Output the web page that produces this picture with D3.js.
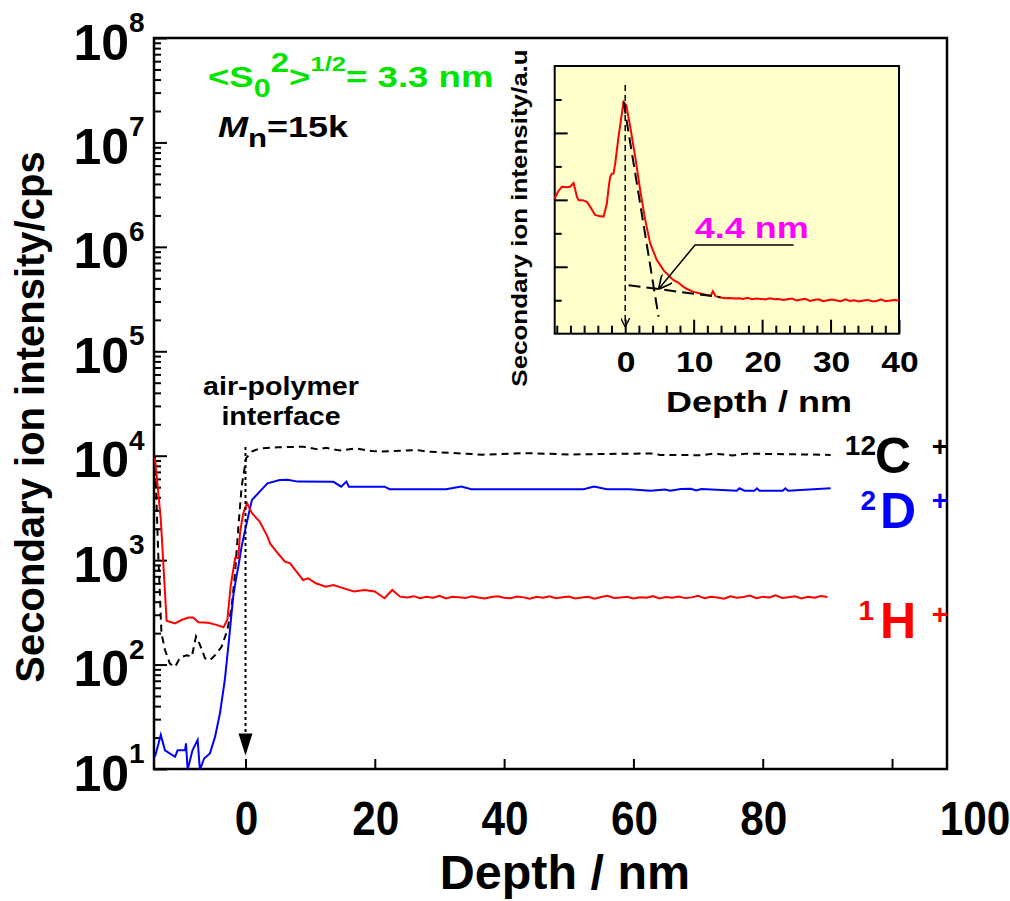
<!DOCTYPE html>
<html><head><meta charset="utf-8">
<script src="https://cdn.jsdelivr.net/npm/d3@7"></script>
<style>
body{margin:0;background:#fff}
svg{display:block}
text{font-family:Arial,"Liberation Sans",Helvetica,sans-serif;font-weight:bold}
</style>
</head><body><div id="chart"></div>
<script>
// ---------------- DATA ----------------
// 1H+ (red)
const hDepth = [-14.0,-13.1,-12.2,-10.9,-9.9,-8.8,-8.1,-7.3,-5.75,-4.5,-3.4,-2.8,-2.3,-1.6,-1.1,-0.85,-0.35,0.25,1.0,2.2,3.4,3.8,5.0,6.1,6.9,8.1,8.9,9.7,10.9,12.4,13.6,15.2,16.8,18.4,20.0,21.5,22.7,23.9,
  25,26,27,28,29,30,31,32,33,34,35,36,37,38,39,40,41,42,43,44,45,46,47,48,49,50,51,52,53,54,55,56,57,58,59,60,61,62,63,64,65,66,67,68,69,70,71,72,73,74,75,76,77,78,79,80,81,82,83,84,85,86,87,88,89,90];
const hCps = [9550,2455,263,248,267,282,282,254,251,240,228,269,562,1047,1047,1820,2818,3508,2812,2344,1679,1445,1164,968,933,748,646,670,600,557,578,537,501,518,501,432,518,447,
  440,452,432,447,437,455,430,446,441,433,450,438,429,444,452,436,431,448,440,427,445,437,451,432,442,449,430,438,446,428,443,455,434,439,447,430,441,436,452,429,444,437,448,433,440,456,431,445,438,427,450,436,443,458,432,447,439,461,434,442,450,430,446,437,453,444];
// 2D+ (blue)
const dDepth = [-14.0,-13.1,-12.45,-10.9,-10.5,-9.35,-9.2,-8.95,-8.2,-7.4,-7.05,-6.4,-5.5,-4.7,-3.95,-3.2,-2.5,-1.9,-1.55,-1.1,-0.6,0.2,1.0,2.2,3.4,5.3,6.5,8.1,13.6,14.8,15.6,16.0,21.5,22.3,31.0,33.4,34.9,52.3,53.9,55.9,59.4,62.6,64.9,65.7,67.3,68.9,69.7,70.5,76.0,76.4,77.2,78.7,79.1,79.5,83.1,83.5,83.9,90.5];
const dCps = [13.1,21.2,15.1,13.1,15.1,15.1,17.6,9.8,15.1,19.0,9.8,12.6,14.1,20.4,34.1,70.8,186,447,617,871,1349,2291,3776,4529,5445,5861,5888,5649,5623,5058,5649,5058,5058,4786,4786,5058,4786,4786,5058,4786,4786,4624,4753,4624,4808,4831,4656,4808,4624,4875,4624,4624,4875,4624,4624,4875,4624,4875];
// 12C+ (black dashed)
const cDepth = [-14.0,-13.5,-13.0,-12.45,-11.7,-10.9,-10.1,-9.1,-8.3,-7.65,-7.05,-6.26,-5.5,-4.7,-3.7,-2.8,-2.14,-1.62,-1.1,-0.6,0.1,0.95,2.2,5.0,8.9,11.2,12.5,14.6,17.0,19.5,20.7,26.5,28.0,36.7,43.0,50.2,56.1,63.0,64.1,70.5,72.5,75.3,77.5,90.5];
const cCps = [9772,1175,200,138,102,95,117,123,119,186,155,115,110,123,148,214,355,741,2089,5012,9462,10965,11749,12023,12218,11482,11885,11220,11749,11092,10965,11350,10965,10233,10593,10280,10399,10520,10186,10116,10471,10069,10471,10186];
// inset: 1H+ (a.u.)
const inDepth = [-10.3,-9.8,-9.25,-8.5,-8.0,-7.55,-7.3,-7.05,-6.8,-6.2,-5.6,-5.1,-4.4,-3.8,-3.16,-2.68,-2.4,-2.19,-1.95,-1.7,-1.46,-0.97,-0.49,-0.24,0.15,0.73,1.46,2.19,2.92,3.65,4.62,5.6,6.3,7.06,7.8,8.52,9.2,9.98,11.0,11.9,12.5,12.8,13.2,
  14.0,14.6,15.3,15.9,16.6,17.2,17.9,18.5,19.2,19.8,20.5,21.1,21.8,22.4,23.1,23.7,24.4,25.0,25.7,26.3,27.0,27.6,28.3,28.9,29.6,30.2,30.9,31.5,32.2,32.8,33.5,34.1,34.8,35.4,36.1,36.7,37.4,38.0,38.7,39.3,40.0];
const inInt = [4.04,4.25,4.39,4.38,4.40,4.50,4.30,4.09,3.99,3.99,3.94,3.79,3.55,3.52,3.50,3.89,4.40,4.69,4.78,4.79,5.09,5.89,6.58,6.93,6.83,6.19,5.29,4.29,3.40,2.70,2.20,1.90,1.75,1.60,1.52,1.40,1.32,1.25,1.20,1.16,1.14,1.27,1.12,
  1.08,1.06,1.07,1.05,1.06,1.04,1.07,1.03,1.05,1.04,1.02,1.06,1.03,1.04,1.01,1.03,1.05,0.99,1.02,1.04,0.98,1.01,1.03,0.97,1.00,1.02,0.99,0.97,1.03,0.98,1.00,0.96,0.99,1.01,0.97,0.98,1.03,0.97,0.99,1.01,0.99];
// tick values / labels
const yDecades = [1e1,1e2,1e3,1e4,1e5,1e6,1e7,1e8];
const yExponents = ["1","2","3","4","5","6","7","8"];
const xTicks = [0,20,40,60,80,100];
const xTickLabels = ["0","20","40","60","80","100"];
const inXTicks = [0,10,20,30,40];
const inXMinor = [-10,-8,-6,-4,-2,2,4,6,8,12,14,16,18,22,24,26,28,32,34,36,38];
const inYTicks = [1,2,3,4,5,6,7];
// inset construction lines (depth, a.u.)
const inVert = [[0,7.43],[0,0.2]];
const inTangent = [[-0.24,6.93],[4.87,0.51]];
const inBase = [[0.49,1.45],[13.9,1.09]];
const inPointer = [[24.6,2.65],[10.2,2.65],[4.86,1.33]];
const series = [
  {name:"12C", depth:cDepth, cps:cCps, color:"#000", dash:"7,5"},
  {name:"2D", depth:dDepth, cps:dCps, color:"#0000ff", dash:null},
  {name:"1H", depth:hDepth, cps:hCps, color:"#ff0000", dash:null}
];

// ---------------- CHART ----------------
const W=1010, H=901;
const L=154, R=947, T=38, B=769;
const svg = d3.select("#chart").append("svg").attr("width",W).attr("height",H);
const defs = svg.append("defs");
defs.append("clipPath").attr("id","clip").append("rect").attr("x",L).attr("y",T).attr("width",R-L).attr("height",B-T);
defs.append("marker").attr("id","vArrow").attr("viewBox","0 0 10 10").attr("refX",10).attr("refY",5)
  .attr("markerWidth",9).attr("markerHeight",9).attr("markerUnits","userSpaceOnUse").attr("orient","auto")
  .append("path").attr("d","M0,0 L10,5 L0,10").attr("fill","none").attr("stroke","#000").attr("stroke-width",1.5);
defs.append("marker").attr("id","vArrow2").attr("viewBox","0 0 10 10").attr("refX",10).attr("refY",5)
  .attr("markerWidth",14).attr("markerHeight",14).attr("markerUnits","userSpaceOnUse").attr("orient","auto")
  .append("path").attr("d","M0,0 L10,5 L0,10").attr("fill","none").attr("stroke","#000").attr("stroke-width",1.2);

const x = d3.scaleLinear().domain([-14.15,108.5]).range([L,R]);
const y = d3.scaleLog().domain([10,1e8]).range([B,T]);

// minor ticks
const yMinor = [];
yDecades.slice(0,-1).forEach(d=>{for(let k=2;k<=9;k++) yMinor.push(d*k);});
svg.append("g").attr("transform",`translate(${L},0)`)
  .call(d3.axisLeft(y).tickValues(yMinor).tickSize(-7).tickFormat(""))
  .call(g=>g.select(".domain").remove()).selectAll("line").attr("stroke-width",2);
svg.append("g").attr("transform",`translate(${L},0)`)
  .call(d3.axisLeft(y).tickValues(yDecades).tickSize(-13).tickFormat(""))
  .call(g=>g.select(".domain").remove()).selectAll("line").attr("stroke-width",2);
svg.append("g").attr("transform",`translate(0,${B})`)
  .call(d3.axisBottom(x).tickValues(xTicks).tickSize(-10).tickFormat(""))
  .call(g=>g.select(".domain").remove()).selectAll("line").attr("stroke-width",2);

// frame
svg.append("rect").attr("x",L).attr("y",T).attr("width",R-L).attr("height",B-T)
  .attr("fill","none").attr("stroke","#000").attr("stroke-width",2.5);

// y labels
yDecades.forEach((d,i)=>{
  svg.append("text").attr("x",129).attr("y",y(d)+21.5).attr("text-anchor","end")
    .attr("font-size",50).text("10");
  svg.append("text").attr("x",129).attr("y",y(d)-6).attr("font-size",28).text(yExponents[i]);
});
// x labels
xTicks.forEach((v,i)=>{
  const px = i===xTicks.length-1 ? x(v)+83 : x(v)+1;
  svg.append("text").attr("transform",`translate(${px},835) scale(0.92,1.064)`).attr("text-anchor","middle")
    .attr("font-size",46).text(xTickLabels[i]);
});
svg.append("text").attr("transform","translate(565,889) scale(1.02,1)").attr("text-anchor","middle")
  .attr("font-size",47.5).text("Depth / nm");
svg.append("text").attr("transform","translate(44,417) rotate(-90)").attr("text-anchor","middle")
  .attr("font-size",40).text("Secondary ion intensity/cps");

// series lines
const lineGen = d3.line().x(d=>x(d[0])).y(d=>y(Math.max(d[1],9)));
const plot = svg.append("g").attr("clip-path","url(#clip)");
series.forEach(s=>{
  plot.append("path").datum(s.depth.map((d,i)=>[d,s.cps[i]]))
    .attr("d",lineGen).attr("fill","none").attr("stroke",s.color).attr("stroke-width",2)
    .attr("stroke-dasharray",s.dash);
});

// interface dotted arrow at depth 0
svg.append("line").attr("x1",x(0)).attr("x2",x(0)).attr("y1",y(12100)).attr("y2",y(13.5)-20)
  .attr("stroke","#000").attr("stroke-width",2).attr("stroke-dasharray","3,3");
svg.append("path").attr("d",`M${x(0)-7},${y(13.5)-22} L${x(0)+7},${y(13.5)-22} L${x(0)},${y(13.5)} Z`).attr("fill","#000");
svg.append("text").attr("transform","translate(281,395) scale(1.1,1)").attr("text-anchor","middle")
  .attr("font-size",26).text("air-polymer");
svg.append("text").attr("transform","translate(281,425) scale(1.1,1)").attr("text-anchor","middle")
  .attr("font-size",26).text("interface");

// series labels
const lab = [
  {sup:"12", main:"C", color:"#000", base:473, supX:876, mainX:875, plusBase:455.5},
  {sup:"2", main:"D", color:"#0000ff", base:528, supX:876, mainX:880, plusBase:510},
  {sup:"1", main:"H", color:"#ff0000", base:638, supX:874, mainX:880, plusBase:624}
];
lab.forEach(l=>{
  svg.append("text").attr("x",l.supX).attr("y",l.base-18).attr("text-anchor","end").attr("font-size",28).attr("fill",l.color).text(l.sup);
  svg.append("text").attr("x",l.mainX).attr("y",l.base).attr("font-size",50).attr("fill",l.color).text(l.main);
  svg.append("text").attr("x",940).attr("y",l.plusBase).attr("text-anchor","middle").attr("font-size",28).attr("fill",l.color).text("+");
});

// annotations top-left
const g1 = svg.append("text").attr("transform","translate(208,87) scale(1.22,1)").attr("font-size",30).attr("fill","#00e400");
g1.append("tspan").text("<S");
g1.append("tspan").attr("font-size",25).attr("dy",10).text("0");
g1.append("tspan").attr("font-size",27).attr("dy",-25).text("2");
g1.append("tspan").attr("font-size",30).attr("dy",15).text(">");
g1.append("tspan").attr("font-size",21).attr("dy",-16).text("1/2");
g1.append("tspan").attr("font-size",30).attr("dy",16).text("= 3.3 nm");
const g2 = svg.append("text").attr("transform","translate(218,137) scale(1.2,1)").attr("font-size",30).attr("fill","#000");
g2.append("tspan").attr("font-style","italic").text("M");
g2.append("tspan").attr("font-size",26).attr("dy",10).text("n");
g2.append("tspan").attr("font-size",30).attr("dy",-10).text("=15k");

// ---------------- INSET ----------------
const ix = d3.scaleLinear().domain([-10.3,40]).range([554.7,899]);
const iy = d3.scaleLinear().domain([0,8]).range([333.7,66]);
const inset = svg.append("g");
inset.append("rect").attr("x",ix(-10.3)).attr("y",iy(8)).attr("width",ix(40)-ix(-10.3)).attr("height",iy(0)-iy(8))
  .attr("fill","#ffffcc");
inset.append("g").attr("transform",`translate(0,${iy(0)})`)
  .call(d3.axisBottom(ix).tickValues(inXMinor).tickSize(-8).tickFormat(""))
  .call(g=>g.select(".domain").remove()).selectAll("line").attr("stroke-width",2);
inset.append("g").attr("transform",`translate(0,${iy(0)})`)
  .call(d3.axisBottom(ix).tickValues(inXTicks).tickSize(-14).tickFormat(""))
  .call(g=>g.select(".domain").remove()).selectAll("line").attr("stroke-width",2);
inset.append("g").attr("transform",`translate(${ix(-10.3)},0)`)
  .call(d3.axisLeft(iy).tickValues(inYTicks).tickSize(0).tickFormat(""))
  .call(g=>g.select(".domain").remove())
  .selectAll(".tick line").attr("x2",d=>d%2===0?13:7).attr("stroke-width",2);
inset.append("rect").attr("x",ix(-10.3)).attr("y",iy(8)).attr("width",ix(40)-ix(-10.3)).attr("height",iy(0)-iy(8))
  .attr("fill","none").attr("stroke","#000").attr("stroke-width",2);
const iline = d3.line().x(d=>ix(d[0])).y(d=>iy(d[1]));
inset.append("path").datum(inDepth.map((d,i)=>[d,inInt[i]])).attr("d",iline)
  .attr("fill","none").attr("stroke","#ff0000").attr("stroke-width",2);
inset.append("path").datum(inVert).attr("d",iline).attr("fill","none").attr("stroke","#000")
  .attr("stroke-width",1.5).attr("stroke-dasharray","6,4").attr("marker-end","url(#vArrow)");
inset.append("path").datum(inTangent).attr("d",iline).attr("fill","none").attr("stroke","#000")
  .attr("stroke-width",2).attr("stroke-dasharray","12,6");
inset.append("path").datum(inBase).attr("d",iline).attr("fill","none").attr("stroke","#000")
  .attr("stroke-width",2).attr("stroke-dasharray","12,6");
inset.append("path").datum(inPointer).attr("d",iline).attr("fill","none").attr("stroke","#000")
  .attr("stroke-width",1.5).attr("marker-end","url(#vArrow2)");
inset.append("text").attr("transform",`translate(${ix(18.5)},${iy(2.87)}) scale(1.2,1)`).attr("text-anchor","middle")
  .attr("font-size",30).attr("fill","#ff00ff").text("4.4 nm");
inXTicks.forEach(v=>{
  inset.append("text").attr("transform",`translate(${ix(v)+1},372) scale(1.12,1)`).attr("text-anchor","middle")
    .attr("font-size",30).text(String(v));
});
inset.append("text").attr("transform","translate(759,412) scale(1.2,1)").attr("text-anchor","middle")
  .attr("font-size",30).text("Depth / nm");
inset.append("text").attr("transform","translate(527,218) rotate(-90) scale(1.18,1)").attr("text-anchor","middle")
  .attr("font-size",22).text("Secondary ion intensity/a.u");
</script></body></html>
